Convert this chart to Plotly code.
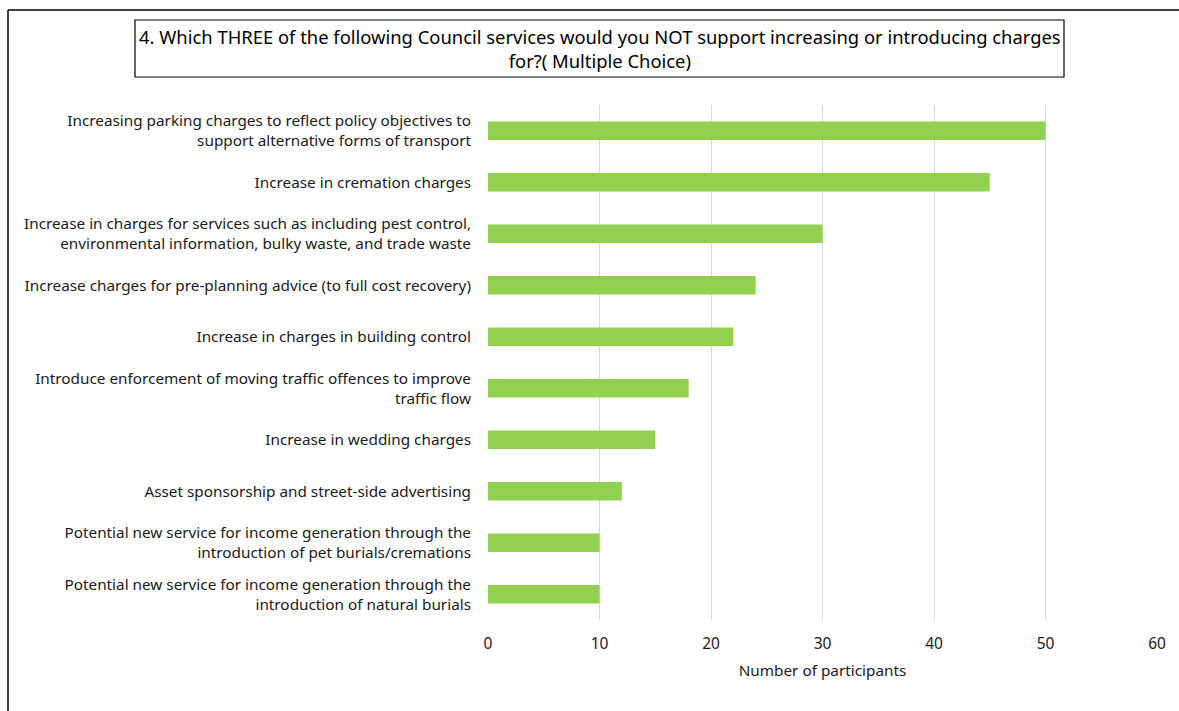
import plotly.graph_objects as go

categories = [
    "Increasing parking charges to reflect policy objectives to<br>support alternative forms of transport",
    "Increase in cremation charges",
    "Increase in charges for services such as including pest control,<br>environmental information, bulky waste, and trade waste",
    "Increase charges for pre-planning advice (to full cost recovery)",
    "Increase in charges in building control",
    "Introduce enforcement of moving traffic offences to improve<br>traffic flow",
    "Increase in wedding charges",
    "Asset sponsorship and street-side advertising",
    "Potential new service for income generation through the<br>introduction of pet burials/cremations",
    "Potential new service for income generation through the<br>introduction of natural burials",
]
values = [50, 45, 30, 24, 22, 18, 15, 12, 10, 10]
x_ticks = [0, 10, 20, 30, 40, 50, 60]
title_line1 = "4. Which THREE of the following Council services would you NOT support increasing or introducing charges"
title_line2 = "for?( Multiple Choice)"
x_title = "Number of participants"

W, H = 1179, 711
L, R, T, B = 488, 1157, 105, 620

def px(x):
    return (x - L) / (R - L)

def py(y):
    return (B - y) / (B - T)

FONT = "'Noto Sans', sans-serif"

fig = go.Figure(go.Bar(
    x=values, y=categories, orientation="h",
    marker=dict(color="#92D050", line=dict(width=0)),
    width=0.36,
))

fig.update_layout(
    width=W, height=H,
    margin=dict(l=L, r=W - R, t=T, b=H - B, autoexpand=False),
    paper_bgcolor="white", plot_bgcolor="white",
    showlegend=False,
    font=dict(family=FONT, size=15.3, color="#1a1a1a"),
    xaxis=dict(
        range=[0, 60], tickvals=x_ticks, showgrid=True, gridcolor="#d9d9d9", gridwidth=1,
        zeroline=False, showline=False, ticks="", tickfont=dict(size=15.5, color="#1a1a1a"),
        ticklabelstandoff=12,
        title=dict(text=x_title, font=dict(size=15.3, color="#1a1a1a"), standoff=12),
    ),
    yaxis=dict(
        categoryorder="array", categoryarray=categories[::-1],
        autorange=False, range=[-0.5, 9.5],
        showgrid=False, zeroline=False, showline=False, ticks="",
        tickfont=dict(size=15.3, color="#1a1a1a"), ticklabelstandoff=16,
    ),
    shapes=[
        dict(type="line", xref="paper", yref="paper", x0=px(8), x1=px(W + 5), y0=py(10), y1=py(10),
             line=dict(color="black", width=1.5)),
        dict(type="line", xref="paper", yref="paper", x0=px(8), x1=px(8), y0=py(10), y1=py(H + 5),
             line=dict(color="black", width=1.5)),
        dict(type="rect", xref="paper", yref="paper", x0=px(135), x1=px(1064), y0=py(20), y1=py(77),
             line=dict(color="black", width=1.2), fillcolor="white"),
    ],
    annotations=[
        dict(xref="paper", yref="paper", x=px(599.5), y=py(48.5), text=title_line1 + "<br>" + title_line2,
             showarrow=False, xanchor="center", yanchor="middle", align="center",
             font=dict(family=FONT, size=18.4, color="black")),
    ],
)

fig.write_html("out.html")
